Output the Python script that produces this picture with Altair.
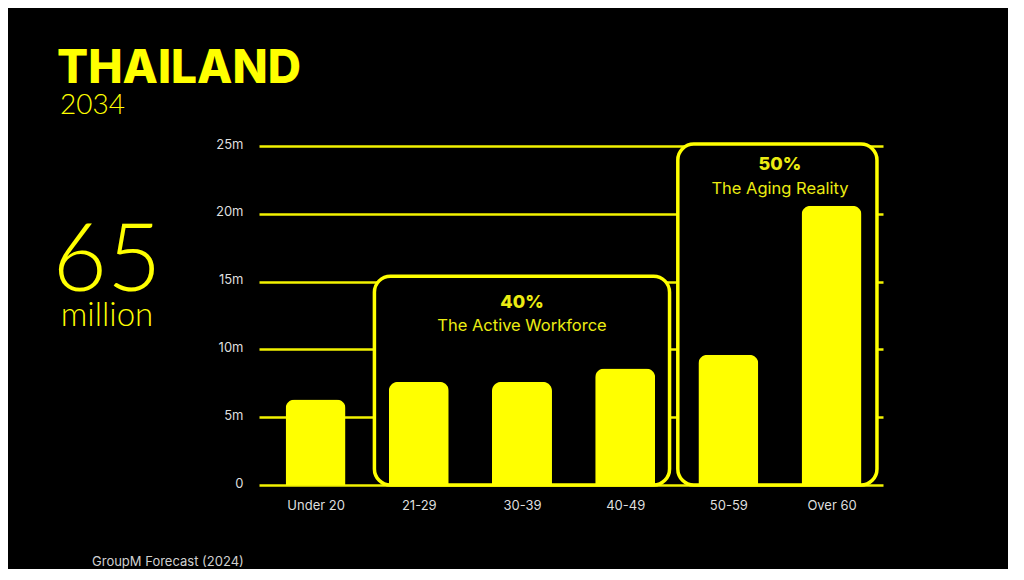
import json
import altair as alt
import pandas as pd

# ---------------- data ----------------
categories = ["Under 20", "21-29", "30-39", "40-49", "50-59", "Over 60"]
population_m = [6.3, 7.6, 7.6, 8.6, 9.6, 20.6]
y_ticks = [0, 5, 10, 15, 20, 25]
y_tick_labels = ["0", "5m", "10m", "15m", "20m", "25m"]

group_shares = ["40%", "50%"]
group_names = ["The Active Workforce", "The Aging Reality"]
group_first = ["21-29", "50-59"]
group_last = ["40-49", "Over 60"]

# ---------------- styling / layout ----------------
YELLOW = "#ffff00"
GRID = "#f2f200"
SOFT_YELLOW = "#ecec12"
LABEL_GREY = "#dedede"
X_RIGHT = len(categories) - 0.55
PLOT_W, PLOT_H = 624, 339

box_top = [15.4, 25.15]
box_pad_left = [0.43, 0.49]
box_pad_right = [0.43, 0.44]
share_y = [13.4, 23.6]
name_y = [11.7, 21.85]

bars_df = pd.DataFrame({
    "idx": list(range(len(categories))),
    "category": categories,
    "value": population_m,
})

first_idx = [categories.index(c) for c in group_first]
last_idx = [categories.index(c) for c in group_last]
groups_df = pd.DataFrame({
    "share": group_shares,
    "name": group_names,
    "x0": [f - p for f, p in zip(first_idx, box_pad_left)],
    "x1": [l + p for l, p in zip(last_idx, box_pad_right)],
    "xc": [(f + l) / 2 for f, l in zip(first_idx, last_idx)],
    "y0": [0, 0],
    "top": box_top,
    "share_y": share_y,
    "name_y": name_y,
})

x_scale = alt.Scale(domain=[-0.5, X_RIGHT], nice=False, zero=False)
y_scale = alt.Scale(domain=[0, 25], nice=False)

x_axis = alt.Axis(
    values=list(range(len(categories))),
    labelExpr=f"{json.dumps(categories)}[datum.value]",
    grid=False, domain=False, ticks=False,
    labelPadding=14, labelFontSize=13, labelColor=LABEL_GREY,
    labelFont="Inter", title=None,
)
y_label_map = json.dumps({str(v): l for v, l in zip(y_ticks, y_tick_labels)})
y_axis = alt.Axis(
    values=y_ticks,
    labelExpr=f"{y_label_map}[''+datum.value]",
    grid=True, gridColor=GRID, gridWidth=2.5,
    domain=False, ticks=False,
    labelPadding=16, labelFontSize=13, labelColor=LABEL_GREY,
    labelFont="Inter", labelOffset=-2, title=None,
)


def X(field):
    return alt.X(field, scale=x_scale, axis=x_axis, title=None)


def Y(field):
    return alt.Y(field, scale=y_scale, axis=y_axis, title=None)


boxes = alt.Chart(groups_df).mark_rect(
    fill="#000000", stroke=YELLOW, strokeWidth=3.5, cornerRadius=16
).encode(
    x=X("x0:Q"),
    x2="x1:Q",
    y=Y("y0:Q"),
    y2="top:Q",
)

bars = alt.Chart(bars_df).mark_bar(
    color=YELLOW, size=60, cornerRadiusTopLeft=9, cornerRadiusTopRight=9
).encode(
    x=X("idx:Q"),
    y=Y("value:Q"),
)

share_text = alt.Chart(groups_df).mark_text(
    font="Inter", fontSize=18, fontWeight=800, color=SOFT_YELLOW, baseline="middle"
).encode(
    x=X("xc:Q"),
    y=Y("share_y:Q"),
    text="share:N",
)

name_text = alt.Chart(groups_df).mark_text(
    font="Inter", fontSize=16.5, fontWeight=400, color=SOFT_YELLOW, baseline="middle"
).encode(
    x=X("xc:Q"),
    y=Y("name_y:Q"),
    text="name:N",
)


def free_text(text, x, y, size, weight, color, font, align="left"):
    return alt.Chart(pd.DataFrame({"t": [text]})).mark_text(
        x=x, y=y, fontSize=size, fontWeight=weight, color=color, font=font,
        align=align, baseline="alphabetic",
    ).encode(text="t:N")


title = free_text("THAILAND", -202, -63, 46, 800, YELLOW, "Inter")
year = free_text("2034", -199, -32, 28, 300, YELLOW, "Lato")
big = free_text("65", -152, 145, 94, 300, YELLOW, "Lato", align="center")
million = free_text("million", -152, 180, 33, 300, YELLOW, "Lato", align="center")
footer = free_text("GroupM Forecast (2024)", -167, 420, 13, 400, "#cfcfcf", "Inter")

chart = alt.layer(
    boxes, bars, share_text, name_text,
    title, year, big, million, footer,
).properties(
    width=PLOT_W, height=PLOT_H,
    autosize=alt.AutoSizeParams(type="none"),
    padding={"left": 251, "top": 138, "right": 125, "bottom": 84},
).configure(
    background="#000000",
).configure_view(
    stroke=None,
)

chart.save("out.html", embed_options={"renderer": "svg", "actions": False})
